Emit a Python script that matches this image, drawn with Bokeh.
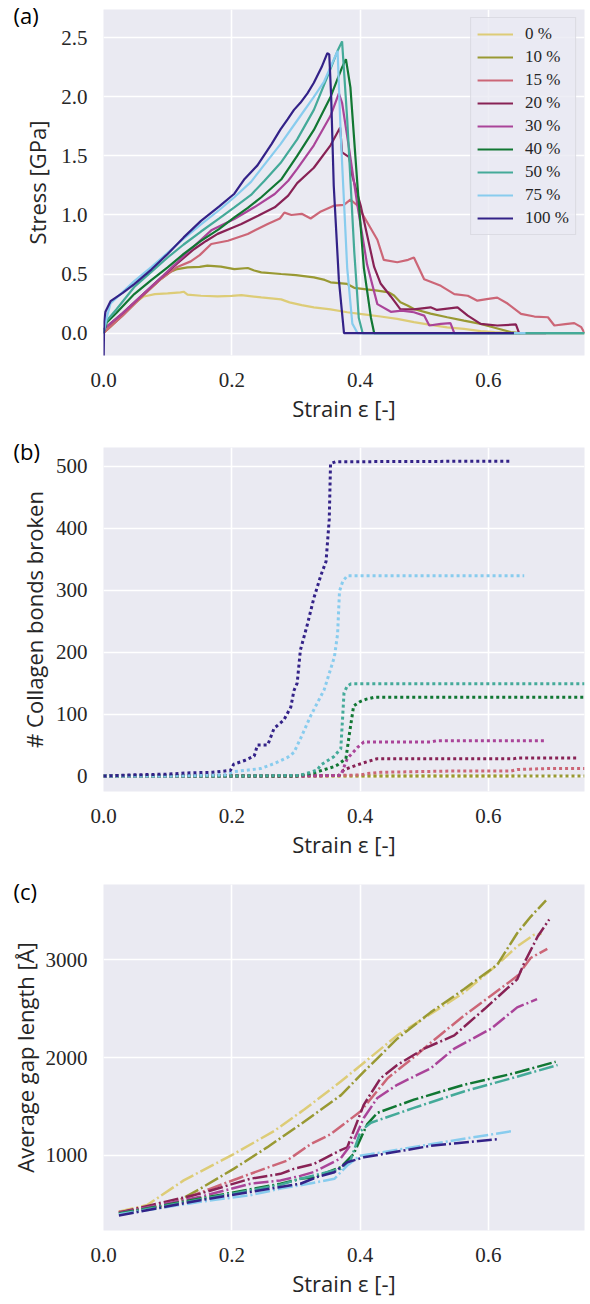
from bokeh.plotting import figure
from bokeh.models import Range1d, NumeralTickFormatter
from bokeh.layouts import column
from bokeh.embed import file_html
from bokeh.resources import INLINE

LABELS = ["0 %", "10 %", "15 %", "20 %", "30 %", "40 %", "50 %", "75 %", "100 %"]
COLORS = ["#DDCC77", "#999933", "#CC6677", "#882255", "#AA4499",
          "#117733", "#44AA99", "#88CCEE", "#332288"]

X_TICKS = [0.0, 0.2, 0.4, 0.6]
A_TICKS = [0.0, 0.5, 1.0, 1.5, 2.0, 2.5]
B_TICKS = [0, 100, 200, 300, 400, 500]
C_TICKS = [1000, 2000, 3000]

# ---- panel (a): stress [GPa] vs strain ----
A0_X = [0.0, 0.01, 0.03, 0.05, 0.063, 0.08, 0.1, 0.12, 0.125, 0.131, 0.152, 0.178, 0.2, 0.215, 0.246, 0.277, 0.29, 0.309, 0.328, 0.354, 0.38, 0.406, 0.432, 0.458, 0.484, 0.51, 0.536, 0.562, 0.588, 0.61, 0.63, 0.645]
A0_Y = [0.0, 0.05, 0.16, 0.26, 0.31, 0.33, 0.336, 0.345, 0.35, 0.325, 0.316, 0.31, 0.315, 0.322, 0.302, 0.285, 0.26, 0.237, 0.218, 0.2, 0.176, 0.158, 0.14, 0.12, 0.092, 0.07, 0.048, 0.035, 0.017, 0.008, 0.002, 0.0]
A1_X = [0.0, 0.03, 0.06, 0.09, 0.105, 0.115, 0.131, 0.15, 0.162, 0.183, 0.204, 0.225, 0.235, 0.246, 0.277, 0.3, 0.328, 0.345, 0.354, 0.38, 0.391, 0.41, 0.427, 0.445, 0.453, 0.463, 0.474, 0.484, 0.51, 0.536, 0.562, 0.588, 0.61, 0.635, 0.65]
A1_Y = [0.0, 0.15, 0.31, 0.46, 0.52, 0.542, 0.556, 0.56, 0.571, 0.562, 0.542, 0.551, 0.53, 0.514, 0.5, 0.49, 0.472, 0.45, 0.43, 0.416, 0.383, 0.37, 0.36, 0.345, 0.318, 0.26, 0.234, 0.204, 0.165, 0.134, 0.105, 0.078, 0.045, 0.008, 0.0]
A2_X = [0.0, 0.03, 0.06, 0.09, 0.115, 0.136, 0.15, 0.168, 0.194, 0.225, 0.256, 0.275, 0.282, 0.293, 0.309, 0.323, 0.339, 0.36, 0.375, 0.385, 0.396, 0.411, 0.427, 0.437, 0.458, 0.475, 0.484, 0.5, 0.526, 0.547, 0.568, 0.583, 0.6, 0.614, 0.63, 0.651, 0.672, 0.693, 0.703, 0.72, 0.734, 0.745, 0.75]
A2_Y = [0.0, 0.15, 0.31, 0.46, 0.56, 0.607, 0.66, 0.754, 0.782, 0.839, 0.924, 0.97, 1.02, 1.0, 1.01, 0.97, 1.03, 1.08, 1.085, 1.13, 1.08, 0.94, 0.79, 0.62, 0.6, 0.62, 0.64, 0.455, 0.4, 0.33, 0.316, 0.274, 0.29, 0.3, 0.25, 0.162, 0.14, 0.134, 0.064, 0.075, 0.084, 0.05, 0.0]
A3_X = [0.0, 0.03, 0.06, 0.09, 0.115, 0.141, 0.16, 0.178, 0.2, 0.215, 0.241, 0.267, 0.288, 0.302, 0.328, 0.354, 0.369, 0.372, 0.383, 0.388, 0.401, 0.411, 0.422, 0.432, 0.448, 0.463, 0.484, 0.51, 0.52, 0.552, 0.568, 0.588, 0.614, 0.643, 0.648]
A3_Y = [0.03, 0.17, 0.32, 0.47, 0.59, 0.71, 0.78, 0.84, 0.89, 0.924, 0.994, 1.065, 1.164, 1.27, 1.4, 1.59, 1.74, 1.53, 1.49, 1.33, 1.08, 0.83, 0.56, 0.42, 0.31, 0.2, 0.2, 0.218, 0.196, 0.218, 0.148, 0.078, 0.064, 0.073, 0.0]
A4_X = [0.0, 0.03, 0.06, 0.09, 0.115, 0.131, 0.15, 0.168, 0.204, 0.235, 0.267, 0.288, 0.302, 0.328, 0.354, 0.367, 0.372, 0.383, 0.396, 0.411, 0.427, 0.448, 0.465, 0.484, 0.5, 0.508, 0.526, 0.541, 0.547, 0.69]
A4_Y = [0.03, 0.17, 0.32, 0.47, 0.6, 0.684, 0.78, 0.87, 0.966, 1.065, 1.178, 1.29, 1.39, 1.59, 1.84, 2.03, 1.95, 1.56, 1.08, 0.58, 0.245, 0.18, 0.19, 0.176, 0.148, 0.064, 0.078, 0.084, 0.0, 0.0]
A5_X = [0.0, 0.005, 0.02, 0.048, 0.075, 0.1, 0.125, 0.152, 0.18, 0.204, 0.225, 0.246, 0.277, 0.302, 0.328, 0.354, 0.372, 0.378, 0.385, 0.396, 0.406, 0.417, 0.422, 0.75]
A5_Y = [0.0, 0.09, 0.17, 0.33, 0.45, 0.556, 0.67, 0.78, 0.88, 0.98, 1.06, 1.15, 1.3, 1.5, 1.72, 2.0, 2.25, 2.32, 2.08, 1.25, 0.55, 0.13, 0.0, 0.0]
A6_X = [0.0, 0.005, 0.02, 0.048, 0.075, 0.1, 0.125, 0.152, 0.18, 0.204, 0.23, 0.251, 0.276, 0.302, 0.328, 0.349, 0.365, 0.372, 0.38, 0.391, 0.398, 0.404, 0.75]
A6_Y = [0.0, 0.105, 0.2, 0.39, 0.52, 0.64, 0.75, 0.86, 0.97, 1.065, 1.17, 1.29, 1.44, 1.64, 1.89, 2.17, 2.39, 2.47, 1.81, 0.69, 0.13, 0.0, 0.0]
A7_X = [0.0, 0.004, 0.011, 0.048, 0.075, 0.1, 0.125, 0.152, 0.18, 0.204, 0.23, 0.25, 0.276, 0.302, 0.328, 0.344, 0.365, 0.37, 0.38, 0.388, 0.396, 0.658]
A7_Y = [0.0, 0.11, 0.25, 0.44, 0.56, 0.68, 0.8, 0.92, 1.04, 1.15, 1.28, 1.42, 1.6, 1.8, 2.0, 2.13, 2.39, 1.67, 0.55, 0.08, 0.0, 0.0]
A8_X = [0.0, 0.001, 0.003, 0.011, 0.03, 0.048, 0.075, 0.1, 0.125, 0.152, 0.18, 0.204, 0.22, 0.24, 0.262, 0.276, 0.287, 0.297, 0.307, 0.318, 0.328, 0.34, 0.349, 0.352, 0.355, 0.359, 0.367, 0.375, 0.64]
A8_Y = [-0.3, 0.1, 0.18, 0.27, 0.34, 0.415, 0.54, 0.67, 0.81, 0.95, 1.07, 1.18, 1.305, 1.42, 1.6, 1.725, 1.81, 1.89, 1.95, 2.03, 2.12, 2.25, 2.37, 2.36, 2.0, 1.25, 0.45, 0.0, 0.0]

# ---- panel (b): number of collagen bonds broken ----
B0_X = [0.0, 0.64]
B0_Y = [0, 0]
B1_X = [0.0, 0.75]
B1_Y = [0, 0]
B2_X = [0.0, 0.35, 0.4, 0.411, 0.432, 0.541, 0.635, 0.645, 0.692, 0.75]
B2_Y = [0, 0.5, 1.6, 4, 6, 8, 8, 10.5, 12, 12]
B3_X = [0.0, 0.3, 0.367, 0.375, 0.396, 0.411, 0.427, 0.64, 0.645, 0.739]
B3_Y = [0, 0, 1, 10, 18, 23, 28, 28, 29, 29]
B4_X = [0.0, 0.3, 0.37, 0.38, 0.396, 0.406, 0.51, 0.52, 0.687]
B4_Y = [0, 0, 1, 28, 46, 55, 55, 57, 57]
B5_X = [0.0, 0.3, 0.328, 0.359, 0.365, 0.378, 0.383, 0.39, 0.4, 0.41, 0.422, 0.75]
B5_Y = [0, 0, 5, 15, 18, 28, 65, 113, 120, 124, 127, 127]
B6_X = [0.0, 0.2, 0.307, 0.333, 0.339, 0.359, 0.37, 0.373, 0.375, 0.38, 0.386, 0.75]
B6_Y = [0, 0, 1, 9.5, 18, 31, 44, 97, 134, 145, 149, 149]
B7_X = [0.0, 0.1, 0.19, 0.203, 0.245, 0.266, 0.287, 0.297, 0.307, 0.323, 0.344, 0.36, 0.365, 0.368, 0.373, 0.38, 0.656]
B7_Y = [0, 0, 2, 7, 12, 20, 30, 38, 60, 97, 139, 192, 229, 298, 314, 323, 323]
B8_X = [0.0, 0.05, 0.1, 0.13, 0.17, 0.198, 0.203, 0.22, 0.235, 0.24, 0.256, 0.266, 0.281, 0.292, 0.297, 0.302, 0.307, 0.318, 0.328, 0.339, 0.347, 0.352, 0.354, 0.362, 0.635]
B8_Y = [0, 2, 3, 5, 6, 9, 19, 25, 32, 50, 50, 77, 90, 111, 138, 150, 203, 245, 287, 324, 346, 414, 504, 507, 508]

# ---- panel (c): average gap length [Å] ----
C0_X = [0.024, 0.068, 0.125, 0.203, 0.266, 0.313, 0.37, 0.458, 0.562, 0.614, 0.645, 0.671, 0.683]
C0_Y = [424, 492, 744, 1013, 1249, 1468, 1754, 2226, 2663, 2949, 3135, 3253, 3265]
C1_X = [0.024, 0.1, 0.151, 0.203, 0.255, 0.307, 0.37, 0.406, 0.458, 0.51, 0.562, 0.614, 0.645, 0.666, 0.69]
C1_Y = [420, 475, 660, 862, 1081, 1316, 1613, 1855, 2192, 2461, 2697, 2949, 3270, 3438, 3606]
C2_X = [0.024, 0.1, 0.167, 0.229, 0.286, 0.323, 0.354, 0.401, 0.443, 0.489, 0.51, 0.562, 0.604, 0.645, 0.666, 0.692]
C2_Y = [420, 492, 660, 811, 946, 1114, 1215, 1451, 1788, 2030, 2150, 2428, 2630, 2832, 3017, 3111]
C3_X = [0.024, 0.151, 0.229, 0.276, 0.297, 0.328, 0.37, 0.38, 0.406, 0.432, 0.458, 0.5, 0.547, 0.594, 0.645, 0.656, 0.677, 0.695]
C3_Y = [415, 609, 761, 811, 862, 912, 1054, 1081, 1519, 1788, 1923, 2091, 2226, 2495, 2798, 2966, 3236, 3411]
C4_X = [0.024, 0.151, 0.229, 0.276, 0.307, 0.328, 0.37, 0.39, 0.406, 0.427, 0.458, 0.51, 0.547, 0.604, 0.645, 0.676]
C4_Y = [410, 576, 710, 744, 790, 830, 970, 1148, 1384, 1586, 1721, 1889, 2091, 2293, 2512, 2596]
C5_X = [0.024, 0.151, 0.276, 0.307, 0.328, 0.37, 0.39, 0.411, 0.427, 0.484, 0.562, 0.64, 0.705]
C5_Y = [405, 559, 710, 760, 775, 879, 1013, 1316, 1434, 1569, 1721, 1838, 1956]
C6_X = [0.024, 0.151, 0.276, 0.307, 0.37, 0.385, 0.401, 0.417, 0.484, 0.562, 0.64, 0.708]
C6_Y = [400, 549, 700, 761, 862, 946, 1249, 1333, 1485, 1653, 1795, 1923]
C7_X = [0.024, 0.151, 0.229, 0.276, 0.307, 0.36, 0.38, 0.4, 0.417, 0.51, 0.638]
C7_Y = [395, 525, 593, 660, 694, 760, 896, 997, 1013, 1114, 1249]
C8_X = [0.024, 0.151, 0.229, 0.276, 0.307, 0.333, 0.36, 0.38, 0.406, 0.51, 0.614]
C8_Y = [385, 542, 626, 677, 710, 778, 828, 929, 980, 1097, 1165]

A_SERIES = [(A0_X, A0_Y), (A1_X, A1_Y), (A2_X, A2_Y), (A3_X, A3_Y), (A4_X, A4_Y),
            (A5_X, A5_Y), (A6_X, A6_Y), (A7_X, A7_Y), (A8_X, A8_Y)]
B_SERIES = [(B0_X, B0_Y), (B1_X, B1_Y), (B2_X, B2_Y), (B3_X, B3_Y), (B4_X, B4_Y),
            (B5_X, B5_Y), (B6_X, B6_Y), (B7_X, B7_Y), (B8_X, B8_Y)]
C_SERIES = [(C0_X, C0_Y), (C1_X, C1_Y), (C2_X, C2_Y), (C3_X, C3_Y), (C4_X, C4_Y),
            (C5_X, C5_Y), (C6_X, C6_Y), (C7_X, C7_Y), (C8_X, C8_Y)]

TICK_FONT = "Liberation Serif"
LABEL_FONT = "Open Sans"
TXT = "#262626"


def make_fig(height, top, bottom, yr, yticks, yfmt, ylabel, panel, tstand, ystand):
    p = figure(width=590, height=height, x_range=Range1d(0, 0.75), y_range=Range1d(*yr),
               min_border_left=103, min_border_right=6, min_border_top=top,
               min_border_bottom=bottom, output_backend="svg", toolbar_location=None,
               title=panel)
    p.title.align = "left"
    p.title.offset = -90
    p.title.standoff = tstand
    p.title.vertical_align = "bottom"
    p.title.text_font = LABEL_FONT
    p.title.text_font_size = "22px"
    p.title.text_font_style = "normal"
    p.title.text_color = "black"
    p.background_fill_color = "#EAEAF2"
    p.border_fill_color = "white"
    p.outline_line_color = None
    p.xgrid.grid_line_color = "white"
    p.ygrid.grid_line_color = "white"
    p.xgrid.grid_line_width = 1.6
    p.ygrid.grid_line_width = 1.6
    for ax in (p.xaxis, p.yaxis):
        ax.axis_line_color = None
        ax.major_tick_line_color = None
        ax.minor_tick_line_color = None
        ax.major_tick_out = 0
        ax.major_tick_in = 0
        ax.major_label_text_font = TICK_FONT
        ax.major_label_text_font_size = "21px"
        ax.major_label_text_color = TXT
        ax.axis_label_text_font = LABEL_FONT
        ax.axis_label_text_font_size = "22px"
        ax.axis_label_text_font_style = "normal"
        ax.axis_label_text_color = TXT
    p.xaxis.ticker = X_TICKS
    p.xaxis.formatter = NumeralTickFormatter(format="0.0")
    p.xaxis.axis_label = "Strain ε [-]"
    p.xaxis.major_label_standoff = 17
    p.xaxis.axis_label_standoff = 3
    p.yaxis.ticker = yticks
    p.yaxis.formatter = NumeralTickFormatter(format=yfmt)
    p.yaxis.axis_label = ylabel
    p.yaxis.major_label_standoff = 16
    p.yaxis.axis_label_standoff = ystand
    return p


pa = make_fig(425, 9, 66, (-0.19, 2.74), A_TICKS, "0.0", "Stress [GPa]", "(a)", -40, 6)
for (xs, ys), c, lab in zip(A_SERIES, COLORS, LABELS):
    pa.line(xs, ys, line_color=c, line_width=2.2, legend_label=lab)
lg = pa.legend[0]
lg.location = "top_right"
lg.margin = 8
lg.padding = 6
lg.spacing = 3
lg.label_height = 20
lg.glyph_height = 20
lg.glyph_width = 36
lg.label_standoff = 12
lg.label_text_font = TICK_FONT
lg.label_text_font_size = "17px"
lg.label_text_color = TXT
lg.background_fill_color = "#EAEAF2"
lg.background_fill_alpha = 0.8
lg.border_line_color = "#CCCCD4"
lg.border_line_width = 1

pb = make_fig(436, 22, 64, (-25, 530), B_TICKS, "0", "# Collagen bonds broken", "(b)", -36, 4)
for (xs, ys), c in zip(B_SERIES, COLORS):
    pb.line(xs, ys, line_color=c, line_width=3, line_dash="3 3")

pc = make_fig(439, 23, 66, (232, 3768), C_TICKS, "0", "Average gap length [Å]", "(c)", -42, 3)
for (xs, ys), c in zip(C_SERIES, COLORS):
    pc.line(xs, ys, line_color=c, line_width=2.5, line_dash="15 3 2 3")

layout = column(pa, pb, pc)
open("out.html", "w").write(file_html(layout, INLINE))
